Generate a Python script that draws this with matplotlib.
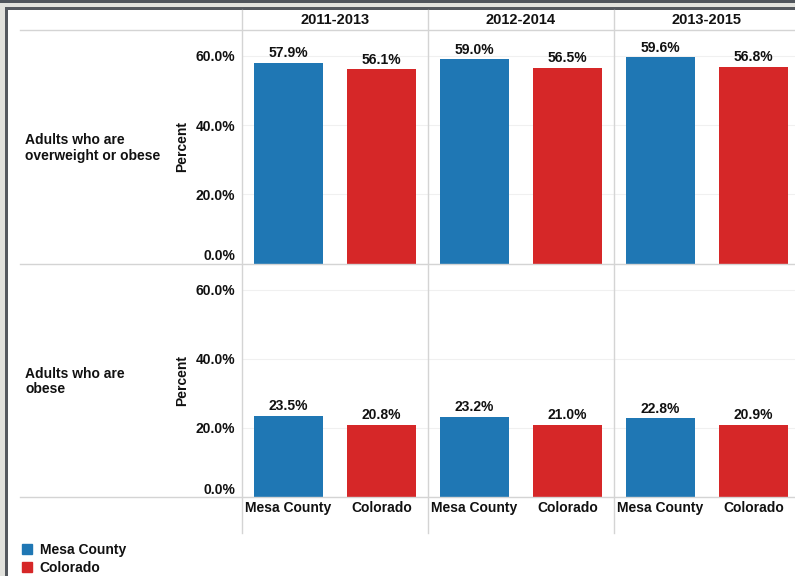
import matplotlib
matplotlib.use('Agg')
import matplotlib.pyplot as plt
from matplotlib.patches import Rectangle, Patch
from matplotlib.lines import Line2D

plt.rcParams['font.family'] = 'Liberation Sans'
plt.rcParams['font.weight'] = 'bold'
plt.rcParams['text.color'] = '#111111'
plt.rcParams['xtick.color'] = '#111111'
plt.rcParams['ytick.color'] = '#111111'

# datos
periodos = ['2011-2013', '2012-2014', '2013-2015']
regiones = ['Mesa County', 'Colorado']
indicadores = ['Adults who are\noverweight or obese', 'Adults who are\nobese']
sobrepeso_mesa = [57.9, 59.0, 59.6]
sobrepeso_colorado = [56.1, 56.5, 56.8]
obesidad_mesa = [23.5, 23.2, 22.8]
obesidad_colorado = [20.8, 21.0, 20.9]
ticks = [0, 20, 40, 60]

colores = ['#1f77b4', '#d62728']
W, H = 795, 576

fig = plt.figure(figsize=(W / 100, H / 100), dpi=100)


def caja(x0, y0, x1, y1):
    # pixeles (origen arriba a la izquierda) -> fraccion de figura
    return [x0 / W, 1 - y1 / H, (x1 - x0) / W, (y1 - y0) / H]


def linea(x0, y0, x1, y1, color='#d4d4d4', lw=1.0):
    fig.add_artist(Line2D([x0 / W, x1 / W], [1 - y0 / H, 1 - y1 / H],
                          transform=fig.transFigure, color=color, lw=lw))


valores = [(sobrepeso_mesa, sobrepeso_colorado), (obesidad_mesa, obesidad_colorado)]
filas = [(30, 263.5), (264, 497)]

for r, (y0, y1) in enumerate(filas):
    for c in range(3):
        x0 = 242 + 186 * c
        ax = fig.add_axes(caja(x0, y0, x0 + 186, y1))
        vals = [valores[r][0][c], valores[r][1][c]]
        barras = ax.bar([0, 1], vals, width=0.75, color=colores, zorder=3)
        for b, v in zip(barras, vals):
            ax.annotate(f'{v:.1f}%', (b.get_x() + b.get_width() / 2, v),
                        xytext=(0, 2), textcoords='offset points',
                        ha='center', va='bottom', fontsize=10, fontweight='bold')
        ax.set_xlim(-0.5, 1.5)
        ax.set_ylim(0, 67.5)
        ax.set_yticks(ticks)
        ax.grid(axis='y', color='#f0f0f0', lw=0.8, zorder=0)
        for s in ax.spines.values():
            s.set_visible(False)
        ax.tick_params(length=0)
        if c == 0:
            etiquetas = ax.set_yticklabels([f'{t:.1f}%' for t in ticks],
                                           fontsize=10, fontweight='bold')
            etiquetas[0].set_va('bottom')
            ax.tick_params(axis='y', pad=5)
        else:
            ax.set_yticklabels([])
        if r == 1:
            ax.set_xticks([0, 1])
            ax.set_xticklabels(regiones, fontsize=10, fontweight='bold')
            ax.tick_params(axis='x', pad=3)
        else:
            ax.set_xticks([])
        ax.patch.set_alpha(0)

    yc = (y0 + y1) / 2
    fig.text(25 / W, 1 - (yc + 1) / H, indicadores[r], ha='left', va='center',
             fontsize=10, fontweight='bold', linespacing=1.15)
    fig.text(182 / W, 1 - yc / H, 'Percent', rotation=90, ha='center',
             va='center', fontsize=10, fontweight='bold')

# encabezados de columna
for c, p in enumerate(periodos):
    fig.text((335 + 186 * c) / W, 1 - 20 / H, p, ha='center', va='center',
             fontsize=10.5, fontweight='bold')

# lineas de la tabla
for yl in [30, 264, 497]:
    linea(20, yl, W, yl)
for xl in [242, 428, 614]:
    linea(xl, 10, xl, 533)

# marco de la ventana
fig.add_artist(Rectangle((0, 1 - 3 / H), 1, 3 / H, transform=fig.transFigure,
                         color='#50555c', lw=0))
fig.add_artist(Rectangle((0, 1 - 7.5 / H), 1, 4.5 / H, transform=fig.transFigure,
                         color='#e2e2dd', lw=0))
fig.add_artist(Rectangle((5 / W, 1 - 10 / H), 1, 2.5 / H, transform=fig.transFigure,
                         color='#55595f', lw=0))
fig.add_artist(Rectangle((0, 0), 5 / W, 1 - 3 / H, transform=fig.transFigure,
                         color='#e2e2dd', lw=0))
fig.add_artist(Rectangle((5 / W, 0), 3 / W, 1 - 7.5 / H, transform=fig.transFigure,
                         color='#55595f', lw=0))

# leyenda
manejadores = [Patch(color=col, label=lab) for col, lab in zip(colores, regiones)]
fig.legend(handles=manejadores, loc='upper left',
           bbox_to_anchor=(19 / W, 1 - 540 / H), frameon=False,
           prop={'size': 10, 'weight': 'bold'}, handlelength=0.75,
           handleheight=0.75, handletextpad=0.55, labelspacing=0.3,
           borderaxespad=0, borderpad=0.2)

fig.savefig('out.png', dpi=100)
